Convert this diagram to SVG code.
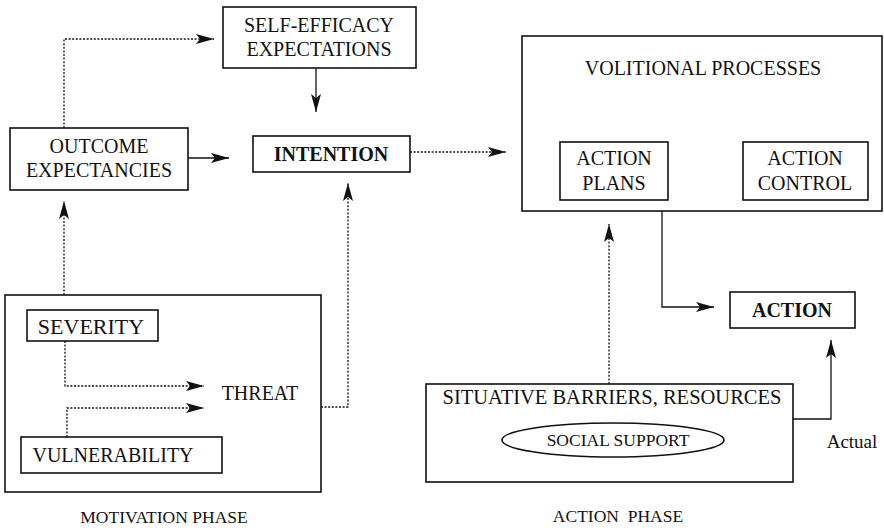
<svg xmlns="http://www.w3.org/2000/svg" width="884" height="531" viewBox="0 0 884 531">
  <style>
    .box { fill: none; stroke: #111; stroke-width: 1.6; }
    .lbl { font-family: "Liberation Serif", "Times New Roman", serif; fill: #111; text-anchor: middle; font-size: 20px; }
    .bold { font-weight: bold; }
    .phase { font-size: 17.5px; }
    .solid { fill: none; stroke: #111; stroke-width: 1.3; }
    .dot { fill: none; stroke: #111; stroke-width: 1.3; stroke-dasharray: 2 1.6; }
    .arrow { marker-end: url(#head); }
  </style>
  <defs>
    <marker id="head" viewBox="-19 -6 20 12" refX="0" refY="0" markerWidth="20" markerHeight="12" markerUnits="userSpaceOnUse" orient="auto">
      <path d="M0,0 L-18,-5 L-14,0 L-18,5 Z" fill="#111"/>
    </marker>
  </defs>
  <rect width="884" height="531" fill="#fff"/>

  <!-- connectors -->
  <g id="connectors">
    <path class="dot arrow" d="M64,128 V39 H214"/>
    <path class="solid arrow" d="M188,158 H229"/>
    <path class="solid arrow" d="M316,68 V112"/>
    <path class="dot arrow" d="M410,152 H506"/>
    <path class="dot arrow" d="M64,295 V201"/>
    <path class="dot arrow" d="M321,407 H348 V183"/>
    <path class="dot arrow" d="M65,341 V386 H204"/>
    <path class="dot arrow" d="M67,437 V408 H204"/>
    <path class="solid arrow" d="M662,211 V307 H714"/>
    <path class="dot arrow" d="M609,384 V224"/>
    <path class="solid arrow" d="M793,419 H831 V340"/>
  </g>

  <!-- motivation phase -->
  <g id="self-efficacy">
    <rect class="box" x="223" y="7" width="193" height="61"/>
    <text class="lbl" x="319" y="32">SELF-EFFICACY</text>
    <text class="lbl" x="319" y="56">EXPECTATIONS</text>
  </g>
  <g id="outcome-expectancies">
    <rect class="box" x="10" y="128" width="178" height="62"/>
    <text class="lbl" x="99" y="153">OUTCOME</text>
    <text class="lbl" x="99" y="177">EXPECTANCIES</text>
  </g>
  <g id="intention">
    <rect class="box" x="253" y="136" width="157" height="36"/>
    <text class="lbl bold" x="331" y="161">INTENTION</text>
  </g>
  <g id="threat-group">
    <rect class="box" x="5" y="295" width="316" height="197"/>
    <text class="lbl" x="260" y="400">THREAT</text>
  </g>
  <g id="severity">
    <rect class="box" x="27" y="310" width="131" height="31"/>
    <text class="lbl" x="91" y="334" style="font-size:22px">SEVERITY</text>
  </g>
  <g id="vulnerability">
    <rect class="box" x="21" y="437" width="201" height="36"/>
    <text class="lbl" x="113" y="462">VULNERABILITY</text>
  </g>
  <text class="lbl phase" x="164" y="523">MOTIVATION PHASE</text>

  <!-- action phase -->
  <g id="volitional-processes">
    <rect class="box" x="522" y="36" width="360" height="175"/>
    <text class="lbl" x="703" y="75">VOLITIONAL PROCESSES</text>
  </g>
  <g id="action-plans">
    <rect class="box" x="560" y="142" width="108" height="58"/>
    <text class="lbl" x="614" y="165">ACTION</text>
    <text class="lbl" x="614" y="190">PLANS</text>
  </g>
  <g id="action-control">
    <rect class="box" x="743" y="142" width="125" height="58"/>
    <text class="lbl" x="805" y="165">ACTION</text>
    <text class="lbl" x="805" y="190">CONTROL</text>
  </g>
  <g id="action">
    <rect class="box" x="730" y="292" width="125" height="36"/>
    <text class="lbl bold" x="792" y="317">ACTION</text>
  </g>
  <g id="situative-barriers">
    <rect class="box" x="426" y="384" width="367" height="98"/>
    <text class="lbl" x="612" y="404" style="font-size:20.5px">SITUATIVE BARRIERS, RESOURCES</text>
  </g>
  <g id="social-support">
    <ellipse class="box" cx="613" cy="440" rx="111" ry="17"/>
    <text class="lbl" x="618" y="446" style="font-size:17.5px">SOCIAL SUPPORT</text>
  </g>
  <text class="lbl" x="852" y="448" style="font-size:19px">Actual</text>
  <text class="lbl phase" x="618" y="522" xml:space="preserve">ACTION  PHASE</text>
</svg>
